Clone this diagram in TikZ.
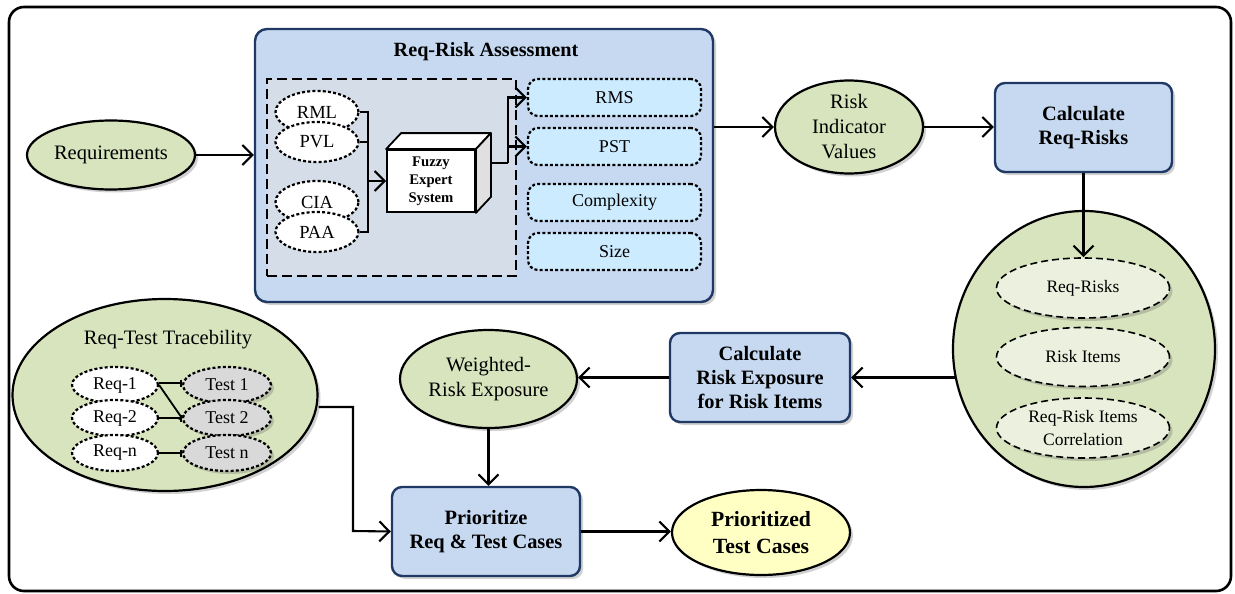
\documentclass[tikz,border=0pt]{standalone}
\usepackage{fontspec}
\setmainfont{Liberation Serif}
\usetikzlibrary{shapes.geometric,arrows.meta,shadows,calc}
\definecolor{gfill}{HTML}{D7E4BD}
\definecolor{lgfill}{HTML}{EBF1DE}
\definecolor{bfill}{HTML}{C6D9F1}
\definecolor{navy}{HTML}{1F3864}
\definecolor{dfill}{HTML}{D5DEE8}
\definecolor{cfill}{HTML}{CCEBFF}
\definecolor{yfill}{HTML}{FFFFC4}
\definecolor{tfill}{HTML}{D9D9D9}
\definecolor{sfill}{HTML}{E0E0E0}
\tikzset{
  shad/.style={drop shadow={shadow xshift=3pt,shadow yshift=-3pt,opacity=0.3,fill=black!60}},
  fmain/.style={font=\fontsize{20.5}{25}\selectfont},
  fsmall/.style={font=\fontsize{18}{23}\selectfont},
  bluebox/.style={draw=navy,line width=2.4pt,fill=bfill,rounded corners=10pt,shad,align=center,
     font=\fontsize{20.4}{24}\selectfont\bfseries},
  greenell/.style={ellipse,draw=black,line width=2.2pt,fill=gfill,shad,inner sep=0pt,align=center,fmain},
  dotell/.style={ellipse,draw=black,line width=2.2pt,dash pattern=on 3pt off 2.2pt,inner sep=0pt,align=center},
  dashell/.style={ellipse,draw=black,line width=1.6pt,dash pattern=on 7pt off 4pt,fill=lgfill,shad,inner sep=0pt,align=center,
     font=\fontsize{17.5}{23}\selectfont},
  cbox/.style={draw=black,line width=2.2pt,dash pattern=on 3pt off 2.2pt,fill=cfill,rounded corners=10pt,
     minimum width=173pt,minimum height=37pt,inner sep=0pt,fsmall},
  arr/.style={line width=2.1pt,-{Straight Barb[length=10pt,width=20pt,line width=2.1pt]}},
  ln/.style={line width=2.1pt},
  tln/.style={line width=1.8pt,-{Bar[width=7pt,line width=1.8pt]}}
}
\begin{document}
\begin{tikzpicture}[x=1pt,y=-1pt]
\useasboundingbox (0,0) rectangle (1235,594);
% outer frame
\draw[line width=2.6pt,rounded corners=15pt] (9,7) rectangle (1231,591);

% Req-Risk Assessment
\node[draw=navy,line width=2.4pt,fill=bfill,rounded corners=12pt,shad,minimum width=458pt,minimum height=273pt,inner sep=0pt] (assess) at (484,165.5) {};
\node[font=\fontsize{20.2}{24}\selectfont\bfseries] (atitle) at (486,52) {Req-Risk Assessment};
\node[draw=black,line width=1.8pt,dash pattern=on 10pt off 5pt,fill=dfill,minimum width=249pt,minimum height=197pt,inner sep=0pt] (inner) at (391.5,177.5) {};

\node[dotell,fill=white,minimum width=83pt,minimum height=42pt,font=\fontsize{18.5}{22}\selectfont] (rml) at (317,112) {RML};
\node[dotell,fill=white,minimum width=83pt,minimum height=40pt,font=\fontsize{18.5}{22}\selectfont] (pvl) at (317,142) {PVL};
\node[dotell,fill=white,minimum width=83pt,minimum height=42pt,font=\fontsize{18.5}{22}\selectfont] (cia) at (317,202) {CIA};
\node[dotell,fill=white,minimum width=83pt,minimum height=40pt,font=\fontsize{18.5}{22}\selectfont] (paa) at (317,232) {PAA};

% Fuzzy cube
\node[draw=black,line width=1.8pt,fill=white,minimum width=88pt,minimum height=62pt,inner sep=0pt,align=center,
  font=\fontsize{14.7}{18}\selectfont\bfseries] (fes) at (431,181) {Fuzzy\\Expert\\System};
\draw[line width=1.8pt,fill=white,line join=round] (fes.north west) -- ++(15,-16) -- ($(fes.north east)+(15,-16)$) -- (fes.north east) -- cycle;
\draw[line width=1.8pt,fill=sfill,line join=round] (fes.north east) -- ++(15,-16) -- ($(fes.south east)+(15,-16)$) -- (fes.south east) -- cycle;
\coordinate (fesout) at (490,163);
\coordinate (outx) at (508,163);
\coordinate (busx) at (368,181);

\node[cbox] (rms) at (614.5,97.5) {RMS};
\node[cbox] (pst) at (614.5,146.5) {PST};
\node[cbox] (cpx) at (614.5,202.5) {Complexity};
\node[cbox] (siz) at (614.5,251.5) {Size};

\draw[ln] (rml.east) -| (busx) |- (paa.east);
\draw[ln] (pvl.east) -- (pvl.east -| busx);
\draw[arr] (busx) -- (fes.west);
\draw[ln] (fesout) -- (outx);
\draw[arr] (outx) |- (rms.west);
\draw[arr] (outx) |- (pst.west);

% Requirements
\node[greenell,minimum width=168pt,minimum height=69pt] (req) at (111,155) {Requirements};
\draw[arr] (req.east) -- (req.east -| assess.west);

% Risk indicator values
\node[greenell,minimum width=148pt,minimum height=93pt] (riv) at (849,127) {Risk\\Indicator\\Values};
\draw[arr] (assess.east |- riv.west) -- (riv.west);

% Calculate Req-Risks
\node[bluebox,minimum width=177pt,minimum height=89pt] (crr) at (1083.5,127.5) {Calculate\\Req-Risks};
\draw[arr] (riv.east) -- (riv.east -| crr.west);

% big circle
\node[greenell,minimum width=262pt,minimum height=276pt] (big) at (1084,349) {};
\node[dashell,minimum width=173pt,minimum height=60pt] (rr) at (1083,288) {Req-Risks};
\node[dashell,minimum width=173pt,minimum height=59pt] (ri) at (1083,357) {Risk Items};
\node[dashell,minimum width=173pt,minimum height=60pt] (rric) at (1083,428) {Req-Risk Items\\Correlation};
\draw[arr] (crr.south) -- (crr.south |- rr.north);

% Calculate risk exposure
\node[bluebox,minimum width=180pt,minimum height=89pt] (cre) at (760,377.5) {Calculate\\Risk Exposure\\for Risk Items};
\draw[arr] ([xshift=2.7pt]big.west |- cre.east) -- (cre.east);

% Weighted risk exposure
\node[greenell,minimum width=177pt,minimum height=98pt] (wre) at (488.5,379) {Weighted-\\Risk Exposure};
\draw[arr] (cre.west) -- (cre.west -| wre.east);

% Prioritize
\node[bluebox,minimum width=188pt,minimum height=89pt] (pr) at (486,531.5) {Prioritize\\Req \& Test Cases};
\draw[arr] (wre.south) -- (wre.south |- pr.north);

% Prioritized test cases
\node[ellipse,draw=black,line width=2.2pt,fill=yfill,shad,inner sep=0pt,align=center,minimum width=178pt,minimum height=85pt,
  font=\fontsize{21.7}{27}\selectfont\bfseries] (ptc) at (761,532.5) {Prioritized\\Test Cases};
\draw[arr] (pr.east) -- (pr.east -| ptc.west);

% Traceability
\node[greenell,minimum width=305pt,minimum height=192pt] (trace) at (165,395) {};
\node[fmain] (ttitle) at (168,340) {Req-Test Tracebility};
\node[dotell,fill=white,minimum width=86pt,minimum height=36pt,font=\fontsize{18}{22}\selectfont] (r1) at (115,385) {Req-1};
\node[dotell,fill=white,minimum width=86pt,minimum height=36pt,font=\fontsize{18}{22}\selectfont] (r2) at (115,418) {Req-2};
\node[dotell,fill=white,minimum width=86pt,minimum height=36pt,font=\fontsize{18}{22}\selectfont] (rn) at (115,453) {Req-n};
\node[dotell,fill=tfill,shad,minimum width=88pt,minimum height=36pt,font=\fontsize{18}{22}\selectfont] (t1) at (227,385) {Test 1};
\node[dotell,fill=tfill,shad,minimum width=88pt,minimum height=36pt,font=\fontsize{18}{22}\selectfont] (t2) at (227,418) {Test 2};
\node[dotell,fill=tfill,shad,minimum width=88pt,minimum height=36pt,font=\fontsize{18}{22}\selectfont] (tn) at (227,453) {Test n};
\draw[tln] ([yshift=2pt]r1.east) -- ([yshift=2pt]t1.west);
\draw[tln] (r1.east) -- (t2.west);
\draw[tln] (r2.east) -- (t2.west);
\draw[tln] (rn.east) -- (tn.west);
\coordinate (tr) at (353,531);
\draw[arr] ([yshift=-12pt]trace.east) -| (tr) -- (pr.west);
\end{tikzpicture}
\end{document}
